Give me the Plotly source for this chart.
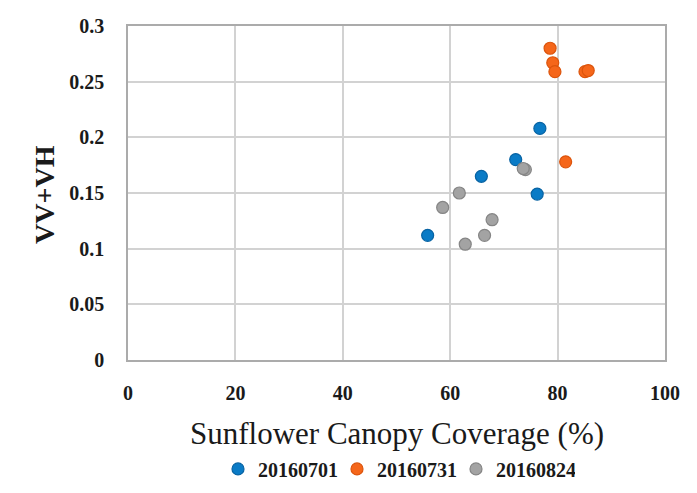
import plotly.graph_objects as go

# Data
x_20160701 = [55.8, 65.8, 72.2, 76.7, 76.2]
y_20160701 = [0.112, 0.165, 0.180, 0.208, 0.149]

x_20160731 = [78.6, 79.1, 79.5, 85.1, 85.7, 81.5]
y_20160731 = [0.280, 0.267, 0.259, 0.259, 0.260, 0.178]

x_20160824 = [58.6, 61.7, 62.8, 66.4, 67.8, 74.0, 73.6]
y_20160824 = [0.137, 0.150, 0.104, 0.112, 0.126, 0.171, 0.172]

x_ticks = [0, 20, 40, 60, 80, 100]
y_ticks = [0, 0.05, 0.1, 0.15, 0.2, 0.25, 0.3]
y_tick_labels = ["0", "0.05", "0.1", "0.15", "0.2", "0.25", "0.3"]

x_title = "Sunflower Canopy Coverage (%)"
y_title = "VV+VH"

series = [
    ("20160701", x_20160701, y_20160701, "#0a7bc6", "#0863a3"),
    ("20160731", x_20160731, y_20160731, "#f5661a", "#dc540c"),
    ("20160824", x_20160824, y_20160824, "#a3a3a3", "#858585"),
]

font_family = "Liberation Serif, DejaVu Serif, serif"
ink = "#1a1a1a"

fig = go.Figure()
for name, xs, ys, color, edge in series:
    fig.add_trace(go.Scatter(
        x=xs, y=ys, mode="markers", name=name,
        marker=dict(size=12, color=color, line=dict(color=edge, width=1.2)),
    ))

axis_common = dict(
    showgrid=True, gridcolor="#d2d2d2", gridwidth=1.5,
    zeroline=False, showline=True, linecolor="#ababab", linewidth=1.5, mirror=True,
    ticks="", automargin=False,
    tickfont=dict(size=20, family=font_family, color=ink, weight="bold"),
)

fig.update_layout(
    width=697, height=493,
    margin=dict(l=120, r=40, t=18, b=128),
    paper_bgcolor="white", plot_bgcolor="white",
    font=dict(family=font_family, color=ink),
    showlegend=True,
    legend=dict(
        orientation="h", x=0.5, xanchor="center", y=-0.326, yanchor="middle",
        font=dict(size=20, family=font_family, color=ink, weight="bold"),
        itemwidth=30, tracegroupgap=0,
        entrywidth=74, entrywidthmode="pixels",
    ),
    xaxis=dict(range=[0, 100], tickvals=x_ticks, ticktext=[str(v) for v in x_ticks],
               ticklabelstandoff=14, **axis_common),
    yaxis=dict(range=[0, 0.3], tickvals=y_ticks, ticktext=y_tick_labels,
               ticklabelstandoff=18, **axis_common),
    annotations=[
        dict(text=x_title, xref="paper", yref="paper", x=0.5, y=-0.219,
             xanchor="center", yanchor="middle", showarrow=False,
             font=dict(size=31, family=font_family, color=ink)),
        dict(text=y_title, xref="paper", yref="paper", x=-0.156, y=0.495,
             xanchor="center", yanchor="middle", textangle=-90, showarrow=False,
             font=dict(size=28, family=font_family, color=ink, weight="bold")),
    ],
)

fig.write_html("out.html")
